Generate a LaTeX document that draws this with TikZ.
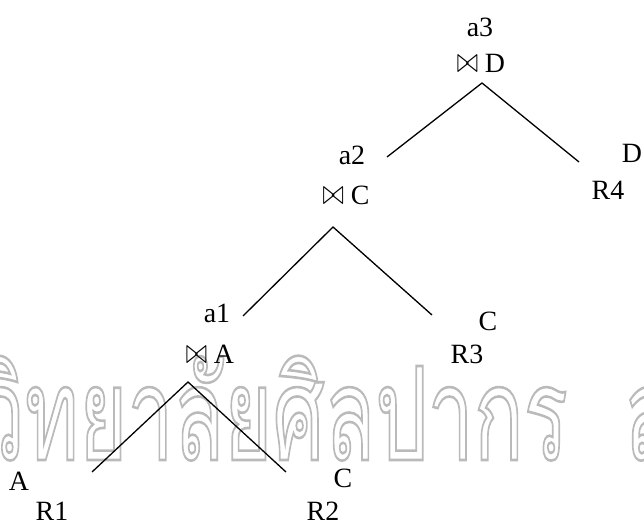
\documentclass[tikz,border=0pt]{standalone}
\usepackage{fontspec}
\usepackage{graphicx}
\setmainfont{Liberation Serif}
\newfontfamily\thaifont[Script=Thai]{Loma}
\newlength\wmw
\newlength\wmh
\newcommand\outl[1]{\special{pdf:literal direct q 1 Tr 2 w}#1\special{pdf:literal direct Q}}
\newcommand\jn{\raisebox{0pt}{\scalebox{1.05}[1.45]{$\bowtie$}}}
\tikzset{
  lbl/.style={anchor=base, inner sep=0pt, text height=18bp, text depth=0pt, font=\fontsize{28}{30}\selectfont},
  edge/.style={line width=1.3bp, black},
  wm/.style={inner sep=0pt, text=black!27}
}
\AtBeginDocument{%
\settowidth\wmw{\thaifont\fontsize{100}{100}\selectfont ทยาลัยศิลปากร}%
\settoheight\wmh{\thaifont\fontsize{100}{100}\selectfont ท}%
\pgfmathsetmacro\wmxs{545.04/\wmw}%
\pgfmathsetmacro\wmys{73.27/\wmh}%
\global\let\wmxs\wmxs\global\let\wmys\wmys}
\begin{document}
\begin{tikzpicture}[x=1bp,y=-1bp]
\useasboundingbox (0,0) rectangle (644,523);
% watermark
\begin{scope}
\clip (0,0) rectangle (644,523);
\node[wm, anchor=base east] (wm1) at (568,460) {\scalebox{\wmxs}[\wmys]{\outl{\thaifont\fontsize{100}{100}\selectfont มหาวิทยาลัยศิลปากร}}};
\node[wm, anchor=base west] (wm2) at (625,460) {\scalebox{\wmxs}[\wmys]{\outl{\thaifont\fontsize{100}{100}\selectfont สงวนลิขสิทธิ์}}};
\end{scope}
% labels
\node[lbl] (a3) at (480,37) {a3};
\node[lbl] (j3) at (481,73) {\jn\ D};
\node[lbl] (d4) at (632,163) {D};
\node[lbl] (r4) at (608,200) {R4};
\node[lbl] (a2) at (352,165) {a2};
\node[lbl] (j2) at (346,205) {\jn\ C};
\node[lbl] (c3) at (488,330) {C};
\node[lbl] (r3) at (467,363) {R3};
\node[lbl] (a1) at (217,322) {a1};
\node[lbl] (j1) at (210,363) {\jn\ A};
\node[lbl] (aa1) at (19,490) {A};
\node[lbl] (r1) at (52,520) {R1};
\node[lbl] (c2) at (343,487) {C};
\node[lbl] (r2) at (323,520) {R2};
% connector points
\coordinate (t3) at (482,83);
\coordinate (l3) at (387,157);
\coordinate (e4) at (579,162);
\coordinate (t2) at (333,227);
\coordinate (l2) at (243,316);
\coordinate (e3) at (432,315);
\coordinate (t1) at (188,382);
\coordinate (e1) at (92,472);
\coordinate (e2) at (286,472);
\draw[edge] (l3) -- (t3) -- (e4);
\draw[edge] (l2) -- (t2) -- (e3);
\draw[edge] (e1) -- (t1) -- (e2);
\end{tikzpicture}
\end{document}
